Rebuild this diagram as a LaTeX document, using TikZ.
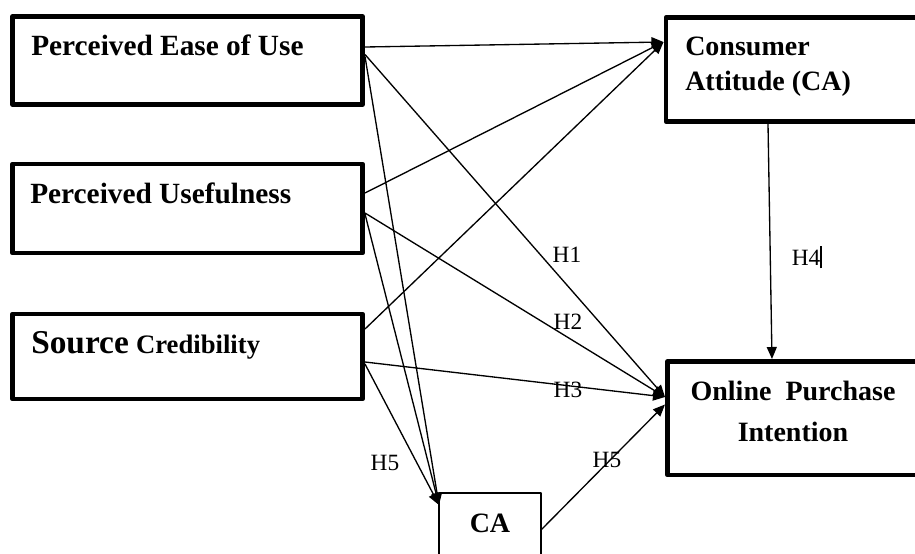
\documentclass[tikz,border=0pt]{standalone}
\usepackage{fontspec}
\setmainfont{Liberation Serif}
\usetikzlibrary{arrows.meta,calc}
\begin{document}
\begin{tikzpicture}[x=0.75pt,y=-0.75pt,line join=round,>={Triangle[length=9pt,width=7.5pt]}]
	\tikzset{bigbox/.style={draw,line width=3.5pt,outer sep=0pt,inner sep=0pt,anchor=north west},
		smallbox/.style={draw,line width=1.1pt,outer sep=0pt,inner sep=0pt,anchor=north west},
		boxtext/.style={anchor=base west,inner sep=0pt,font=\bfseries\fontsize{22}{26}\selectfont},
		rtext/.style={anchor=base,inner sep=0pt,font=\bfseries\fontsize{21}{25}\selectfont},
		hyp/.style={inner sep=0pt,font=\fontsize{17.5}{20}\selectfont},
		path/.style={->,line width=1pt}}
	\useasboundingbox (0,0) rectangle (915,554);
	\clip (0,0) rectangle (915,554);
	\node[bigbox,minimum width=262.5pt,minimum height=66pt] (peu) at (12.5,16.5) {};
	\node[bigbox,minimum width=262.5pt,minimum height=66.75pt] (pu) at (12.5,164) {};
	\node[bigbox,minimum width=262.5pt,minimum height=63.75pt] (sc) at (12.5,314) {};
	\node[bigbox,minimum width=192pt,minimum height=78pt] (att) at (666,17.5) {};
	\node[bigbox,minimum width=188.6pt,minimum height=85.1pt] (opi) at (667.5,361.5) {};
	\node[smallbox,minimum width=76.5pt,minimum height=67.5pt] (ca) at (439,493) {};
	\node[boxtext] (peutext) at (31,55) {Perceived Ease of Use};
	\node[boxtext] (putext) at (30,203) {Perceived Usefulness};
	\node[boxtext] (sctext) at (31,353) {{\fontsize{25}{30}\selectfont Source} {\fontsize{20}{24}\selectfont Credibility}};
	\node[rtext,anchor=base west] (atttext1) at (685,55) {Consumer};
	\node[rtext,anchor=base west] (atttext2) at (685,90) {Attitude (CA)};
	\node[rtext] (opitext1) at (793,400) {Online\ \ Purchase};
	\node[rtext] (opitext2) at (793,441) {Intention};
	\node[rtext] (catext) at (490,532) {CA};
	\coordinate (attin) at ($(att.north west)+(-2.5,24.5)$);
	\coordinate (opiin) at ($(opi.north west)+(-2.5,35.5)$);
	\coordinate (opiin2) at ($(opi.north west)+(-2.5,43)$);
	\coordinate (cain) at ($(ca.north west)+(0,12)$);
	\draw[path] ($(peu.north east)+(2.5,30.5)$) -- (attin);
	\draw[path] ($(peu.north east)+(2.5,38)$) -- (opiin);
	\draw[path] ($(peu.north east)+(2.5,40)$) -- (cain);
	\draw[path] ($(pu.north east)+(2.5,29)$) -- (attin);
	\draw[path] ($(pu.north east)+(2.5,49)$) -- (opiin);
	\draw[path] ($(pu.north east)+(2.5,50)$) -- (cain);
	\draw[path] ($(sc.north east)+(2.5,15)$) -- (attin);
	\draw[path] ($(sc.north east)+(2.5,48)$) -- (opiin);
	\draw[path] ($(sc.north east)+(2.5,50)$) -- (cain);
	\draw[path] ($(ca.north east)+(0,37)$) -- (opiin2);
	\draw[path] ($(att.south west)+(102,2)$) -- ($(opi.north west)+(104.5,-2.5)$);
	\node[hyp] (h1) at (567,255) {H1};
	\node[hyp] (h2) at (568,322) {H2};
	\node[hyp] (h3) at (568,390) {H3};
	\node[hyp] (h5a) at (385,463) {H5};
	\node[hyp] (h5b) at (607,460) {H5};
	\node[hyp] (h4) at (807,257) {H4\rule[-2pt]{1.4pt}{17pt}};
\end{tikzpicture}
\end{document}
